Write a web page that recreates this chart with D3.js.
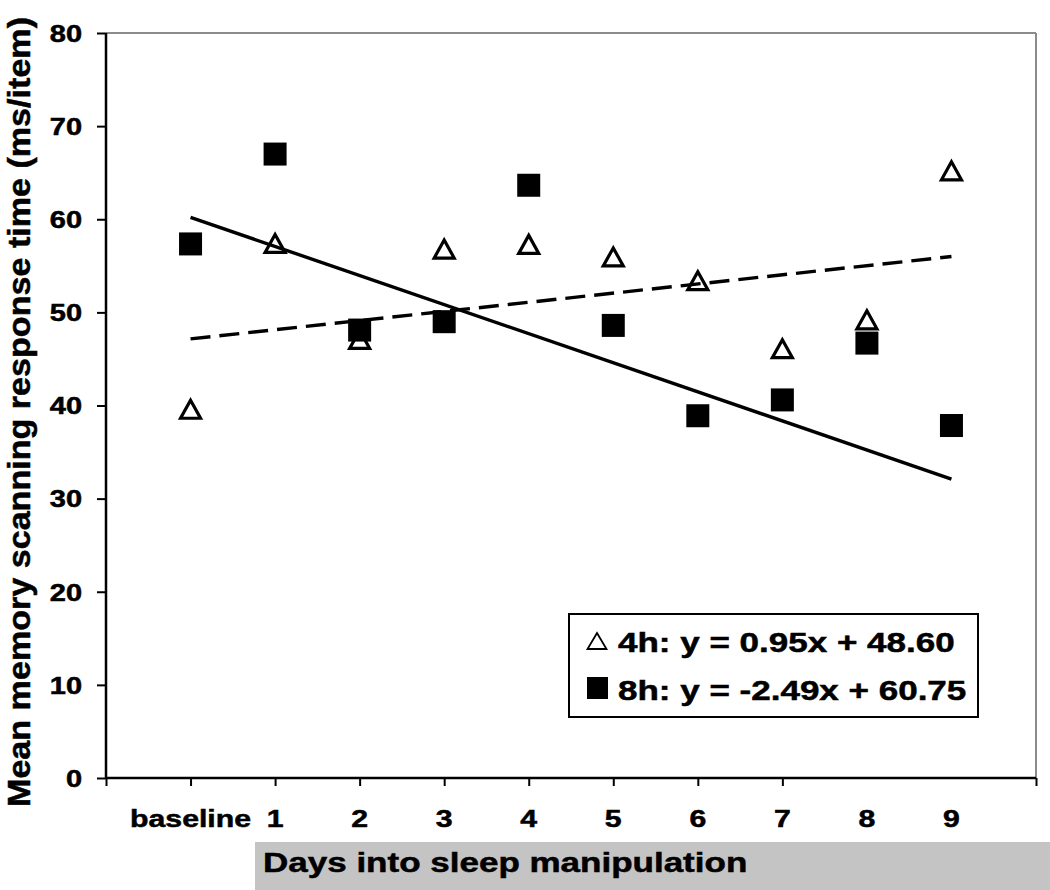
<!DOCTYPE html>
<html>
<head>
<meta charset="utf-8">
<script src="https://cdn.jsdelivr.net/npm/d3@7"></script>
<style>
  html, body { margin: 0; padding: 0; background: #fff; }
  svg text { font-family: "Liberation Sans", Arial, sans-serif; font-weight: bold; fill: #000; stroke: #000; stroke-width: 0.5px; }
</style>
</head>
<body>
<svg id="chart" width="1050" height="890"></svg>
<script>
// ---- data ----
const dayLabels = ["baseline", "1", "2", "3", "4", "5", "6", "7", "8", "9"];
const dayIndex = [0, 1, 2, 3, 4, 5, 6, 7, 8, 9];
const fourH = [39.6, 57.4, 47.1, 56.8, 57.3, 55.95, 53.4, 46.1, 49.2, 65.2];
const eightH = [57.35, 67.0, 48.1, 49.0, 63.65, 48.6, 38.9, 40.6, 46.7, 37.85];
const trendX = [0, 9];
const trend4h = [47.15, 56.0];
const trend8h = [60.2, 32.1];
const yTicks = [0, 10, 20, 30, 40, 50, 60, 70, 80];
const xTickMarks = [-1, 0, 1, 2, 3, 4, 5, 6, 7, 10];
const legendLabels = ["4h: y = 0.95x + 48.60", "8h: y = -2.49x + 60.75"];
const yTitle = "Mean memory scanning response time (ms/item)";
const xTitle = "Days into sleep manipulation";

// ---- layout ----
const svg = d3.select("#chart");
const x = d3.scaleLinear().domain([-1, 10]).range([106, 1036]);
const y = d3.scaleLinear().domain([0, 80]).range([778, 33]);
const K = 1.26; // horizontal stretch of the reference

function stretch(sel, k) {
  sel.each(function () {
    const len = this.getComputedTextLength();
    d3.select(this).attr("textLength", len * k).attr("lengthAdjust", "spacingAndGlyphs");
  });
}

// plot frame: top/right grey
svg.append("line").attr("x1", x(-1)).attr("x2", x(10)).attr("y1", y(80)).attr("y2", y(80))
  .attr("stroke", "#8c8c8c").attr("stroke-width", 2);
svg.append("line").attr("x1", x(10)).attr("x2", x(10)).attr("y1", y(80)).attr("y2", y(0))
  .attr("stroke", "#8c8c8c").attr("stroke-width", 2);

// y axis
const yAxis = d3.axisLeft(y).tickValues(yTicks).tickSize(9).tickPadding(14).tickFormat(d3.format("d"));
const gy = svg.append("g").attr("transform", `translate(${x(-1)},0)`).call(yAxis);
gy.select(".domain").attr("stroke", "#000").attr("stroke-width", 2.5).attr("d", `M0,${y(80)}V${y(0)}`);
gy.selectAll(".tick line").attr("stroke", "#000").attr("stroke-width", 2);
gy.selectAll(".tick text").attr("font-size", 23).attr("font-family", null).attr("dy", "0.36em")
  .attr("x", 82 - x(-1)).call(stretch, K);

// x axis (tick marks only)
const xAxis = d3.axisBottom(x).tickValues(xTickMarks).tickSize(8).tickFormat("");
const gx = svg.append("g").attr("transform", `translate(0,${y(0)})`).call(xAxis);
gx.select(".domain").attr("stroke", "#000").attr("stroke-width", 2.5).attr("d", `M${x(-1)},0H${x(10)}`);
gx.selectAll(".tick line").attr("stroke", "#000").attr("stroke-width", 2);

// x category labels
svg.append("g").selectAll("text").data(dayIndex).join("text")
  .attr("x", d => x(d)).attr("y", 827).attr("text-anchor", "middle").attr("font-size", 24)
  .text((d, i) => dayLabels[i]).call(stretch, K);

// x title with grey band
svg.append("rect").attr("x", 255).attr("y", 842).attr("width", 795).attr("height", 48).attr("fill", "#c4c4c4");
svg.append("text").attr("x", 263).attr("y", 872).attr("font-size", 28).text(xTitle).call(stretch, 1.25);

// y title
svg.append("text").attr("transform", "translate(30,412) rotate(-90)").attr("text-anchor", "middle")
  .attr("font-size", 32).attr("textLength", 790).attr("lengthAdjust", "spacingAndGlyphs").text(yTitle);

// trend lines
const line = d3.line().x(d => x(d[0])).y(d => y(d[1]));
svg.append("path").datum(trendX.map((d, i) => [d, trend8h[i]])).attr("d", line)
  .attr("fill", "none").attr("stroke", "#000").attr("stroke-width", 3.4);
svg.append("path").datum(trendX.map((d, i) => [d, trend4h[i]])).attr("d", line)
  .attr("fill", "none").attr("stroke", "#000").attr("stroke-width", 3.4).attr("stroke-dasharray", "20,9");

// markers
function triPath(w, h) { return `M0,${-h / 2}L${w / 2},${h / 2}L${-w / 2},${h / 2}Z`; }
svg.append("g").selectAll("path").data(dayIndex).join("path")
  .attr("transform", (d, i) => `translate(${x(d)},${y(fourH[i])})`)
  .attr("d", triPath(20, 18)).attr("fill", "none").attr("stroke", "#000").attr("stroke-width", 3.2);
const sq = 23;
svg.append("g").selectAll("rect").data(dayIndex).join("rect")
  .attr("x", d => x(d) - sq / 2).attr("y", (d, i) => y(eightH[i]) - sq / 2)
  .attr("width", sq).attr("height", sq).attr("fill", "#000");

// legend
const lg = svg.append("g");
lg.append("rect").attr("x", 569).attr("y", 614).attr("width", 409).attr("height", 103)
  .attr("fill", "#fff").attr("stroke", "#000").attr("stroke-width", 2);
lg.append("path").attr("transform", "translate(597,641)").attr("d", triPath(19, 16))
  .attr("fill", "none").attr("stroke", "#000").attr("stroke-width", 1.8);
lg.append("rect").attr("x", 587).attr("y", 677).attr("width", 21).attr("height", 22).attr("fill", "#000");
lg.selectAll("text").data(legendLabels).join("text")
  .attr("x", 618).attr("y", (d, i) => 652 + i * 48).attr("font-size", 28).text(d => d).call(stretch, 1.25);
</script>
</body>
</html>
